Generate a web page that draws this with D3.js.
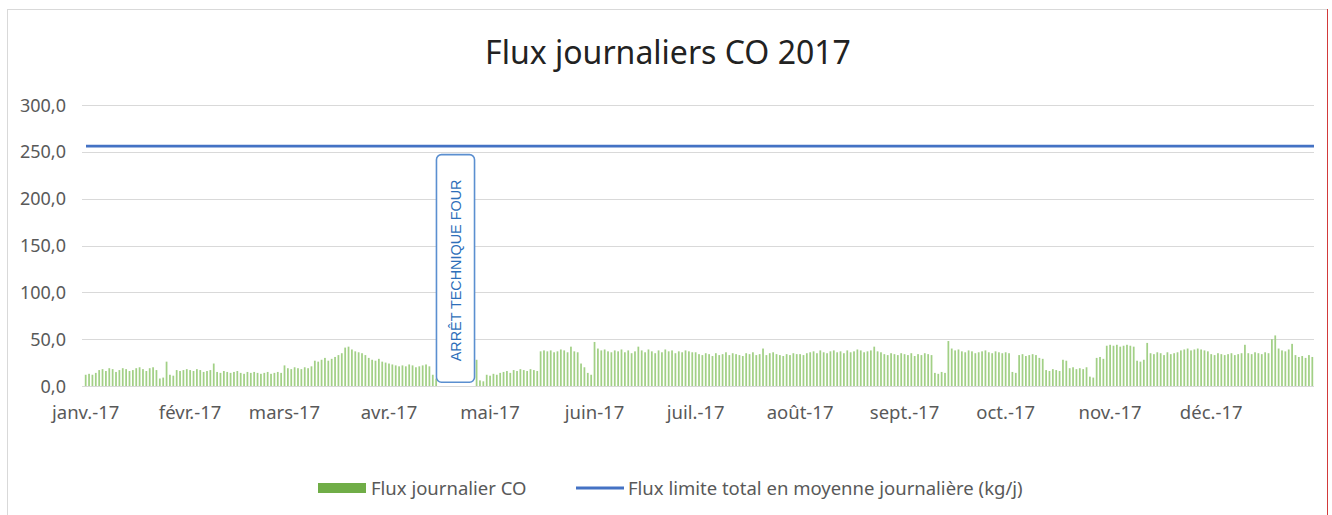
<!DOCTYPE html>
<html><head><meta charset="utf-8">
<script src="https://cdn.jsdelivr.net/npm/d3@7"></script>
<style>body{margin:0;background:#fff}svg{display:block}</style>
</head><body><svg id="c" width="1332" height="515"></svg>
<script>
const title = "Flux journaliers CO 2017";
const monthLabels = ["janv.-17","févr.-17","mars-17","avr.-17","mai-17","juin-17","juil.-17","août-17","sept.-17","oct.-17","nov.-17","déc.-17"];
const jan = [12,13,12,14,17,18,16,19,18,15,17,19,18,16,17,19,20,18,16,19,20,17,8,9,26,12,11,17,16,17,18];
const feb = [17,16,18,17,15,16,17,24,15,14,16,15,14,15,16,14,13,15,14,15,14,13,14,15,13,14,15,14];
const mar = [22,19,18,20,19,18,20,19,21,27,26,28,30,27,29,31,33,35,41,42,39,37,36,35,33,30,28,27,29,26,25];
const apr = [24,23,22,21,22,21,23,22,20,21,22,23,21,12,8,0,0,0,0,0,0,0,0,0,0,0,28,6,5,12];
const may = [11,13,12,14,15,16,14,17,16,18,17,16,18,17,16,37,38,37,38,36,37,39,38,36,42,37,36,24,20,14,12];
const jun = [47,40,38,39,37,36,38,37,39,36,38,35,37,42,38,36,39,37,35,38,36,39,37,38,35,37,36,38,37,36];
const jul = [36,34,33,35,34,32,35,33,34,36,33,35,34,33,32,35,34,36,33,34,40,33,35,36,34,33,32,34,33,35,34];
const aug = [34,33,35,36,37,35,38,36,35,37,38,36,37,35,38,36,37,39,38,36,37,38,42,37,36,34,33,35,34,33,35];
const sep = [34,33,35,32,34,33,35,34,33,14,13,15,14,48,40,38,39,37,36,38,37,35,36,37,38,36,35,37,36,35];
const oct = [36,35,15,14,33,34,32,33,34,33,30,29,17,16,18,17,16,28,27,19,20,18,19,18,20,10,9,30,31,29,43];
const nov = [44,43,44,42,43,44,43,42,27,26,28,46,35,34,36,35,33,36,34,35,36,38,39,40,38,39,40,39,38,37];
const dec = [34,33,35,34,33,34,35,33,34,35,44,35,34,36,35,34,36,35,50,54,40,38,37,39,45,33,31,32,30,33,31];
const limitValue = 256;
const yTicks = [0,50,100,150,200,250,300];
const shutdownDays = [104,114];
const shutdownLabel = "ARRÊT TECHNIQUE FOUR";
const legendLabels = ["Flux journalier CO","Flux limite total en moyenne journalière (kg/j)"];

const months = [jan,feb,mar,apr,may,jun,jul,aug,sep,oct,nov,dec];
const daily = [].concat(...months);
const idx = d3.range(daily.length);
const monthStart = [];
{ let c = 0; months.forEach(m => { monthStart.push(c); c += m.length; }); }

const FONT = "'Noto Sans', sans-serif";
const svg = d3.select("#c");

// frame
svg.append("rect").attr("x",7.5).attr("y",9.5).attr("width",1320).attr("height",520)
  .attr("fill","#fff").attr("stroke","#d9d9d9");
svg.append("line").attr("x1",1327.5).attr("x2",1327.5).attr("y1",9).attr("y2",515)
  .attr("stroke","#d23a3a").attr("stroke-width",1);

const x = d3.scaleBand().domain(idx).range([84,1314]).padding(0);
const y = d3.scaleLinear().domain([0,300]).range([386,105]);

// gridlines
svg.append("g").selectAll("line").data(yTicks).join("line")
  .attr("x1",82).attr("x2",1314)
  .attr("y1",d=>Math.round(y(d))+0.5).attr("y2",d=>Math.round(y(d))+0.5)
  .attr("stroke","#d9d9d9").attr("stroke-width",1);

// y axis labels
const fmt = v => d3.format(".1f")(v).replace(".",",");
svg.append("g").selectAll("text").data(yTicks).join("text")
  .attr("x",66).attr("y",d=>y(d)+6.5).attr("text-anchor","end")
  .attr("font-family",FONT).attr("font-size",18).attr("fill","#595959")
  .text(fmt);

// bars
const bw = x.bandwidth()*0.52;
svg.append("g").selectAll("rect").data(idx).join("rect")
  .attr("x",i=>x(i)+(x.bandwidth()-bw)/2).attr("width",bw)
  .attr("y",i=>y(daily[i])).attr("height",i=>y(0)-y(daily[i]))
  .attr("fill","#a2d086");

// limit line
const line = d3.line().x(d=>d[0]).y(d=>y(d[1]));
svg.append("path").datum([[x.range()[0]+2,limitValue],[x.range()[1],limitValue]])
  .attr("d",line).attr("stroke","#4472c4").attr("stroke-width",2.8).attr("fill","none");

// month labels
svg.append("g").selectAll("text").data(monthLabels).join("text")
  .attr("x",(d,i)=>x(monthStart[i])+x.bandwidth()/2)
  .attr("y",419).attr("text-anchor","middle")
  .attr("font-family",FONT).attr("font-size",18.5).attr("fill","#595959")
  .text(d=>d);

// annotation box
const bx0 = x(shutdownDays[0])+2, bx1 = x(shutdownDays[1])+x.bandwidth()+3;
svg.append("rect").attr("x",bx0).attr("y",y(247)).attr("width",bx1-bx0).attr("height",y(4)-y(247))
  .attr("rx",5).attr("fill","#fff").attr("stroke","#5b8fd0").attr("stroke-width",1.6);
svg.append("text")
  .attr("transform",`translate(${(bx0+bx1)/2+5},${(y(247)+y(4))/2+2}) rotate(-90)`)
  .attr("text-anchor","middle").attr("font-family","'Liberation Sans', sans-serif")
  .attr("font-size",14.4).attr("fill","#2e6fba").text(shutdownLabel);

// title
svg.append("text").attr("x",668).attr("y",64).attr("text-anchor","middle")
  .attr("font-family",FONT).attr("font-size",32).attr("fill","#222").text(title);

// legend
svg.append("rect").attr("x",318).attr("y",483).attr("width",48).attr("height",10).attr("fill","#70ad47");
svg.append("text").attr("x",371).attr("y",494.5).attr("font-family",FONT).attr("font-size",18.5)
  .attr("fill","#595959").text(legendLabels[0]);
svg.append("line").attr("x1",576).attr("x2",624).attr("y1",488).attr("y2",488)
  .attr("stroke","#4472c4").attr("stroke-width",2.8);
svg.append("text").attr("x",628).attr("y",494.5).attr("font-family",FONT).attr("font-size",18.5)
  .attr("fill","#595959").text(legendLabels[1]);
</script></body></html>
